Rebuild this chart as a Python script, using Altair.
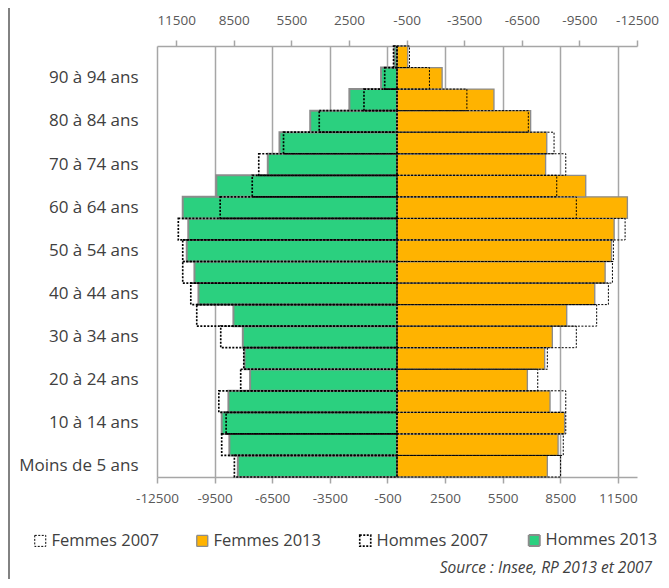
import altair as alt
import pandas as pd

ages = ["Moins de 5 ans", "5 à 9 ans", "10 à 14 ans", "15 à 19 ans", "20 à 24 ans",
        "25 à 29 ans", "30 à 34 ans", "35 à 39 ans", "40 à 44 ans", "45 à 49 ans",
        "50 à 54 ans", "55 à 59 ans", "60 à 64 ans", "65 à 69 ans", "70 à 74 ans",
        "75 à 79 ans", "80 à 84 ans", "85 à 89 ans", "90 à 94 ans", "95 ans ou plus"]
age_labels = ages[0:19:2]

hommes_2013 = [8290, 8730, 9130, 8780, 7650, 7940, 8030, 8520, 10340, 10550,
               10950, 10870, 11160, 9410, 6730, 6120, 4520, 2480, 830, 130]
hommes_2007 = [8470, 9130, 8900, 9280, 8140, 7980, 9180, 10430, 10740, 11160,
               11160, 11390, 9210, 7540, 7200, 5910, 4050, 1720, 640, 180]
femmes_2013 = [7830, 8390, 8730, 7970, 6790, 7690, 8090, 8840, 10300, 10840,
               11170, 11310, 12000, 9830, 7740, 7800, 6960, 5050, 2350, 560]
femmes_2007 = [8520, 8660, 8790, 8790, 7330, 7830, 9340, 10400, 11010, 11220,
               11270, 11880, 9340, 8320, 8790, 8180, 6840, 3640, 1690, 650]

series = ["Femmes 2007", "Femmes 2013", "Hommes 2007", "Hommes 2013"]
bottom_ticks = [-12500, -9500, -6500, -3500, -500, 2500, 5500, 8500, 11500]
top_ticks = [-11500, -8500, -5500, -2500, 500, 3500, 6500, 9500, 12500]
source_text = "Source : Insee, RP 2013 et 2007"

rows = []
for i, a in enumerate(ages):
    rows.append(dict(age=a, serie="Hommes 2013", annee=2013, valeur=-hommes_2013[i]))
    rows.append(dict(age=a, serie="Femmes 2013", annee=2013, valeur=femmes_2013[i]))
    rows.append(dict(age=a, serie="Hommes 2007", annee=2007, valeur=-hommes_2007[i]))
    rows.append(dict(age=a, serie="Femmes 2007", annee=2007, valeur=femmes_2007[i]))
df = pd.DataFrame(rows)

FONT = "Open Sans"
GRID = "#a6a6a6"
TXT = "#404040"

leg = alt.Legend(
    orient="none", legendX=-125, legendY=486, direction="horizontal", columns=4,
    columnPadding=35, title=None, labelFontSize=16.5, labelFont=FONT, labelColor=TXT,
    symbolType="square", symbolSize=121, labelOffset=3,
)

fill_scale = alt.Scale(domain=series, range=["transparent", "#ffb300", "transparent", "#2bd07f"])
stroke_scale = alt.Scale(domain=series, range=["#000000", "#8c8c8c", "#000000", "#8c8c8c"])
dash_scale = alt.Scale(domain=series, range=[[2, 1.5], [1, 0], [2, 1.5], [1, 0]])
sw_scale = alt.Scale(domain=series, range=[1, 2, 1, 2])

xscale = alt.Scale(domain=[-12500, 12500], nice=False, zero=False)
yenc = alt.Y("age:N", sort=ages[::-1],
             scale=alt.Scale(paddingInner=0, paddingOuter=0),
             axis=alt.Axis(values=age_labels, ticks=False, tickSize=0, domain=False,
                           labelPadding=19, title=None, labelFontSize=17, labelFont=FONT,
                           labelColor=TXT, grid=False))

def style_enc():
    return dict(
        fill=alt.Fill("serie:N", scale=fill_scale, legend=leg),
        stroke=alt.Stroke("serie:N", scale=stroke_scale, legend=leg),
        strokeDash=alt.StrokeDash("serie:N", scale=dash_scale, legend=leg),
        strokeWidth=alt.StrokeWidth("serie:N", scale=sw_scale, legend=leg),
    )

base = alt.Chart(df)

bars2013 = base.transform_filter("datum.annee == 2013").mark_bar().encode(
    x=alt.X("valeur:Q", scale=xscale,
            axis=alt.Axis(orient="bottom", values=bottom_ticks, labelExpr="'' + datum.value",
                          grid=True, gridColor=GRID, gridWidth=1.5, domainColor=GRID,
                          domainWidth=1.5, tickColor=GRID, tickWidth=1.5, tickSize=6,
                          labelFontSize=13.5, labelFont=FONT, labelColor="#595959",
                          labelPadding=8, labelOverlap=False, labelFlush=False,
                          labelBound=False, title=None)),
    x2=alt.X2(datum=0),
    y=yenc,
    **style_enc(),
)

bars2007 = base.transform_filter("datum.annee == 2007").mark_bar().encode(
    x=alt.X("valeur:Q", scale=xscale,
            axis=alt.Axis(orient="top", values=top_ticks, labelExpr="'' + (-datum.value)",
                          grid=False, ticks=True, domainColor=GRID, domainWidth=1.5,
                          tickColor=GRID, tickWidth=1.5, tickSize=6, labelFontSize=13.5,
                          labelFont=FONT, labelColor="#595959", labelPadding=13,
                          labelOverlap=False, labelFlush=False, labelBound=False,
                          title=None)),
    x2=alt.X2(datum=0),
    y=yenc,
    **style_enc(),
)

misc = alt.Chart(pd.DataFrame({"t": [source_text]}))

border = misc.mark_rule(color="#595959", strokeWidth=1.5).encode(
    x=alt.value(-148), y=alt.value(-40), y2=alt.value(540)
)

source = misc.mark_text(align="right", baseline="middle", fontStyle="italic",
                        fontSize=15.5, font=FONT, color=TXT).encode(
    text="t:N", x=alt.value(495), y=alt.value(522)
)

chart = alt.layer(bars2013, bars2007, border, source).resolve_axis(x="independent").properties(
    width=480, height=431,
    autosize=alt.AutoSizeParams(type="none"),
    padding={"left": 149, "top": 38, "right": 24, "bottom": 102},
).configure_view(stroke=None)

chart.save("out.html", embed_options={"renderer": "svg", "actions": False})
